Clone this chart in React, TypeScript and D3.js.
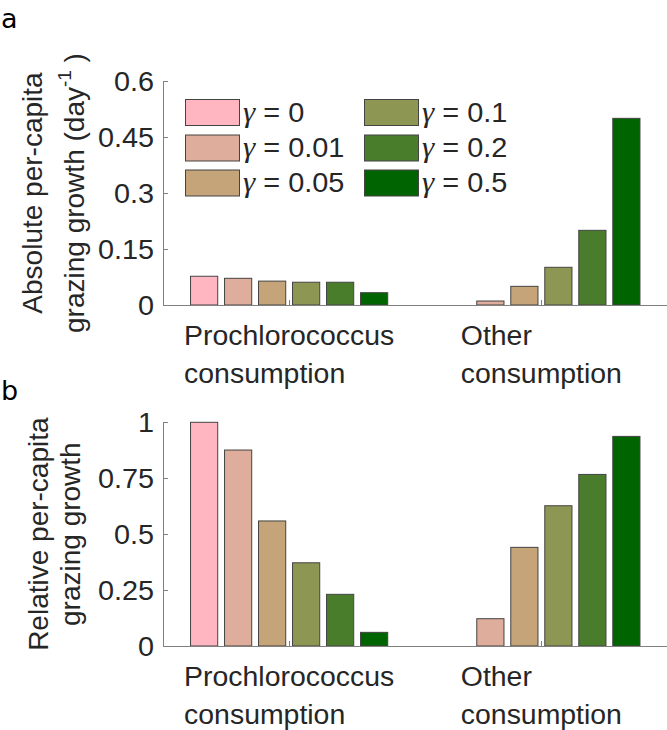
import React, { useEffect, useRef } from "react";
import * as d3 from "d3";

const categories = ["Prochlorococcus\nconsumption", "Other\nconsumption"];
const seriesLabels = ["0", "0.01", "0.05", "0.1", "0.2", "0.5"];
const seriesColors = ["#FFB6C1", "#DFAD9B", "#C4A478", "#8E9654", "#4A7D2B", "#006400"];
// absolute per-capita grazing growth (day^-1) per gamma
const absProchloro = [0.077, 0.0715, 0.064, 0.061, 0.061, 0.033];
const absOther = [0, 0.0107, 0.05, 0.101, 0.2, 0.5];
// relative per-capita grazing growth per gamma
const relProchloro = [1.0, 0.876, 0.559, 0.372, 0.231, 0.061];
const relOther = [0, 0.122, 0.441, 0.627, 0.767, 0.937];
const ticksA = [0, 0.15, 0.3, 0.45, 0.6];
const tickLabelsA = ["0", "0.15", "0.3", "0.45", "0.6"];
const ticksB = [0, 0.25, 0.5, 0.75, 1];
const tickLabelsB = ["0", "0.25", "0.5", "0.75", "1"];

const W = 667;
const H = 730;
const FONT = "'Liberation Sans', Arial, Helvetica, sans-serif";
const TXT = "#262626";
const AX = "#808080";

export default function App() {
  const ref = useRef<SVGSVGElement>(null);

  useEffect(() => {
    const svg = d3.select(ref.current);
    svg.selectAll("*").remove();

    const xLeft = 163;
    const xRight = 667.5;
    const xGroup = d3.scaleBand<string>().domain(categories).range([xLeft, xRight]).padding(0);
    const xInner = d3
      .scaleBand<string>()
      .domain(seriesLabels)
      .range([-102, 102])
      .paddingInner(0.2)
      .paddingOuter(0.1);

    function stretchedText(
      parent: any,
      x: number,
      y: number,
      rot: number,
      sx: number,
      size: number,
      anchor: string
    ) {
      const g = parent
        .append("g")
        .attr("transform", `translate(${x},${y}) rotate(${rot}) scale(${sx},1)`);
      return g
        .append("text")
        .attr("font-family", FONT)
        .attr("font-size", size)
        .attr("fill", TXT)
        .attr("text-anchor", anchor);
    }

    function panel(
      top: number,
      bottom: number,
      yMax: number,
      ticks: number[],
      tickLabels: string[],
      valsP: number[],
      valsO: number[],
      label: string,
      labelY: number,
      ylab: { lines: string[]; x: number[]; sup?: boolean }
    ) {
      const g = svg.append("g");
      const y = d3.scaleLinear().domain([0, yMax]).range([bottom, top]);
      const data = [valsP, valsO];

      categories.forEach((cat, ci) => {
        seriesLabels.forEach((s, si) => {
          const v = data[ci][si];
          const cx = xGroup(cat)! + xGroup.bandwidth() / 2;
          g.append("rect")
            .attr("x", cx + xInner(s)!)
            .attr("width", xInner.bandwidth())
            .attr("y", y(v))
            .attr("height", Math.max(0, y(0) - y(v)))
            .attr("fill", seriesColors[si])
            .attr("stroke", v > 0 ? "#444" : "none")
            .attr("stroke-width", 1);
        });
      });

      g.append("line")
        .attr("x1", xLeft + 0.5)
        .attr("x2", xLeft + 0.5)
        .attr("y1", y(yMax))
        .attr("y2", y(0))
        .attr("stroke", AX);
      g.append("line")
        .attr("x1", xLeft)
        .attr("x2", xRight)
        .attr("y1", y(0) + 0.5)
        .attr("y2", y(0) + 0.5)
        .attr("stroke", AX);
      ticks.forEach((t, i) => {
        g.append("line")
          .attr("x1", xLeft)
          .attr("x2", xLeft + 5)
          .attr("y1", Math.round(y(t)) + 0.5)
          .attr("y2", Math.round(y(t)) + 0.5)
          .attr("stroke", AX);
        stretchedText(g, xLeft - 9, y(t), 0, 1.03, 28, "end")
          .attr("dy", "0.36em")
          .text(tickLabels[i]);
      });
      categories.forEach((cat) => {
        const cx = xGroup(cat)! + xGroup.bandwidth() / 2;
        g.append("line")
          .attr("x1", Math.round(cx) + 0.5)
          .attr("x2", Math.round(cx) + 0.5)
          .attr("y1", y(0))
          .attr("y2", y(0) - 5)
          .attr("stroke", AX);
        const lines = cat.split("\n");
        const sx = 1.015;
        const texts = lines.map((ln, li) =>
          stretchedText(g, 0, y(0) + 40 + li * 37.5, 0, sx, 28, "start").text(ln)
        );
        const maxW = d3.max(texts, (t: any) => (t.node() as SVGTextElement).getComputedTextLength() * sx)!;
        texts.forEach((t: any) => {
          const par = d3.select(t.node().parentNode);
          const tr = par.attr("transform").replace(/translate\(0,/, `translate(${cx - maxW / 2},`);
          par.attr("transform", tr);
        });
      });

      const cy = (top + bottom) / 2;
      ylab.lines.forEach((ln, li) => {
        const t = stretchedText(g, ylab.x[li], cy, -90, 1.0, 28, "middle");
        if (ylab.sup && li === ylab.lines.length - 1) {
          t.append("tspan").text(ln);
          t.append("tspan").attr("dy", -13).attr("font-size", 19).text("-1");
          t.append("tspan").attr("dy", 13).text(" )");
        } else {
          t.text(ln);
        }
      });

      svg
        .append("text")
        .attr("x", 1)
        .attr("y", labelY)
        .attr("font-family", "'DejaVu Sans', sans-serif")
        .attr("font-size", 27)
        .attr("fill", "#000")
        .text(label);
      return y;
    }

    panel(81, 305, 0.6, ticksA, tickLabelsA, absProchloro, absOther, "a", 28, {
      lines: ["Absolute per-capita", "grazing growth (day"],
      x: [42, 84],
      sup: true,
    });
    panel(422.3, 646, 1, ticksB, tickLabelsB, relProchloro, relOther, "b", 400, {
      lines: ["Relative per-capita", "grazing growth"],
      x: [48, 80],
    });

    const leg = svg.append("g");
    const colX = [185, 364];
    const rowY = [112, 147.5, 182.5];
    seriesLabels.forEach((s, i) => {
      const col = Math.floor(i / 3);
      const row = i % 3;
      leg
        .append("rect")
        .attr("x", colX[col] + 0.5)
        .attr("y", rowY[row] - 13 + 0.5)
        .attr("width", 54)
        .attr("height", 26)
        .attr("fill", seriesColors[i])
        .attr("stroke", "#444");
      const t = stretchedText(leg, colX[col] + 58, rowY[row], 0, 1.07, 27, "start").attr("dy", "0.36em");
      t.append("tspan")
        .attr("font-family", "'Liberation Serif', 'Times New Roman', serif")
        .attr("font-style", "italic")
        .attr("font-size", 29)
        .text("γ");
      t.append("tspan").text(` = ${s}`);
    });
  }, []);

  return (
    <svg
      ref={ref}
      width={W}
      height={H}
      style={{ position: "absolute", left: 0, top: 0, display: "block", background: "#fff" }}
    />
  );
}
